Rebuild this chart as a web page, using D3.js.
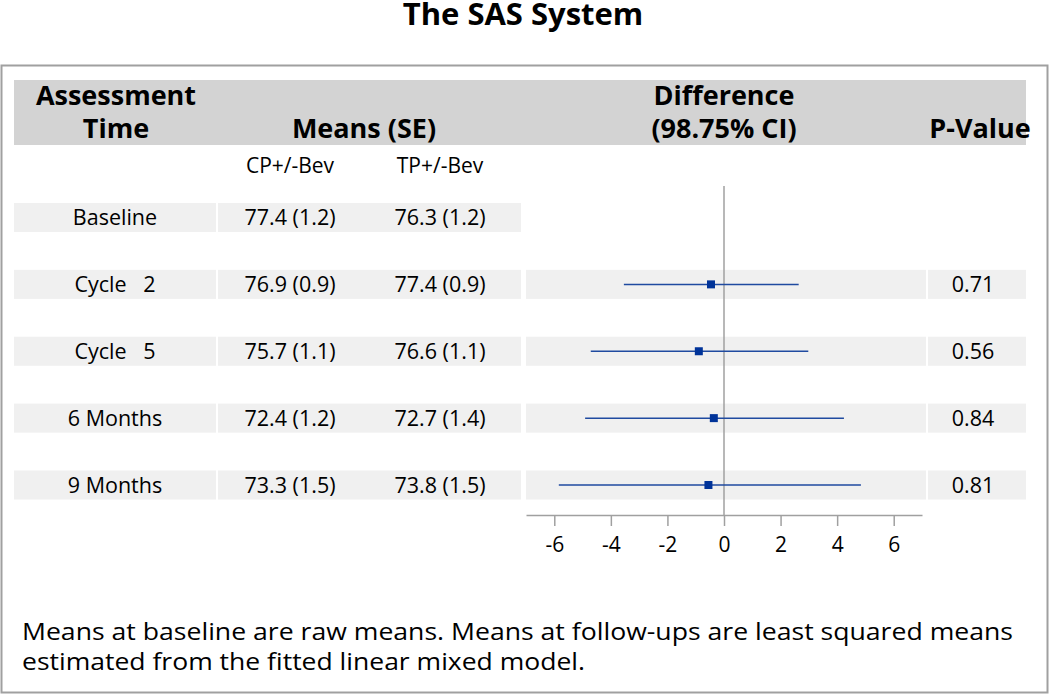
<!DOCTYPE html>
<html><head><meta charset="utf-8">
<script src="https://cdn.jsdelivr.net/npm/d3@7"></script>
<style>body{margin:0;background:#fff}text{font-family:"Open Sans",sans-serif}</style>
</head><body>
<svg id="c" width="1050" height="695"></svg>
<script>
const timepoints = ["Baseline", "Cycle   2", "Cycle   5", "6 Months", "9 Months"];
const meanCP = [77.4, 76.9, 75.7, 72.4, 73.3];
const seCP = [1.2, 0.9, 1.1, 1.2, 1.5];
const meanTP = [76.3, 77.4, 76.6, 72.7, 73.8];
const seTP = [1.2, 0.9, 1.1, 1.4, 1.5];
const diffEst = [null, -0.46, -0.89, -0.36, -0.55];
const diffLow = [null, -3.54, -4.71, -4.91, -5.84];
const diffHigh = [null, 2.64, 2.98, 4.24, 4.84];
const pValues = [null, "0.71", "0.56", "0.84", "0.81"];
const xTicks = [-6, -4, -2, 0, 2, 4, 6];
const groupLabels = ["CP+/-Bev", "TP+/-Bev"];

const svg = d3.select("#c");
const x = d3.scaleLinear().domain([-7, 7]).range([526, 922]);
const y = d3.scalePoint().domain(timepoints).range([217.5, 485]);
const bh = 29;
const tsz = "21.5px";

// title
svg.append("text").attr("x", 523).attr("y", 25).attr("text-anchor", "middle")
  .style("font-size", "31px").style("font-weight", "bold").text("The SAS System");

// border
svg.append("rect").attr("x", 1.5).attr("y", 65.5).attr("width", 1046).attr("height", 627)
  .attr("fill", "none").attr("stroke", "#a0a0a0").attr("stroke-width", 2);

// header band
svg.append("rect").attr("x", 14).attr("y", 80).attr("width", 1012).attr("height", 65).attr("fill", "#d3d3d3");
const hdr = [
  {t: "Assessment", x: 116, y: 105}, {t: "Time", x: 116, y: 138},
  {t: "Means (SE)", x: 364, y: 138},
  {t: "Difference", x: 724, y: 105}, {t: "(98.75% CI)", x: 724, y: 138},
  {t: "P-Value", x: 980, y: 138}
];
svg.append("defs").append("clipPath").attr("id", "hc").append("rect")
  .attr("x", 0).attr("y", 60).attr("width", 1032).attr("height", 100);
svg.append("g").attr("clip-path", "url(#hc)").selectAll("text").data(hdr).join("text")
  .attr("x", d => d.x).attr("y", d => d.y).attr("text-anchor", "middle")
  .style("font-size", "27px").style("font-weight", "bold").text(d => d.t);

// sub headers
svg.selectAll(".sub").data(groupLabels).join("text").attr("class", "sub")
  .attr("x", (d, i) => [290, 440][i]).attr("y", 173).attr("text-anchor", "middle")
  .style("font-size", "21px").text(d => d);

// row bands
const rows = timepoints.map((t, i) => ({t, i}));
const g = svg.append("g");
rows.forEach(r => {
  const cy = y(r.t);
  g.append("rect").attr("x", 14).attr("y", cy - bh / 2).attr("width", 202).attr("height", bh).attr("fill", "#f0f0f0");
  g.append("rect").attr("x", 218).attr("y", cy - bh / 2).attr("width", 303).attr("height", bh).attr("fill", "#f0f0f0");
  if (diffEst[r.i] !== null) {
    g.append("rect").attr("x", 526).attr("y", cy - bh / 2).attr("width", 400).attr("height", bh).attr("fill", "#f0f0f0");
    g.append("rect").attr("x", 928).attr("y", cy - bh / 2).attr("width", 98).attr("height", bh).attr("fill", "#f0f0f0");
  }
});

// row texts
g.selectAll(".lab").data(rows).join("text").attr("class", "lab")
  .attr("x", 115).attr("y", d => y(d.t) + 7.5).attr("text-anchor", "middle")
  .attr("xml:space", "preserve").style("white-space", "pre")
  .style("font-size", tsz).text(d => d.t);
g.selectAll(".cp").data(rows).join("text").attr("class", "cp")
  .attr("x", 290).attr("y", d => y(d.t) + 7.5).attr("text-anchor", "middle")
  .style("font-size", tsz).text(d => `${meanCP[d.i].toFixed(1)} (${seCP[d.i].toFixed(1)})`);
g.selectAll(".tp").data(rows).join("text").attr("class", "tp")
  .attr("x", 440).attr("y", d => y(d.t) + 7.5).attr("text-anchor", "middle")
  .style("font-size", tsz).text(d => `${meanTP[d.i].toFixed(1)} (${seTP[d.i].toFixed(1)})`);
g.selectAll(".pv").data(rows.filter(d => pValues[d.i] !== null)).join("text").attr("class", "pv")
  .attr("x", 973).attr("y", d => y(d.t) + 7.5).attr("text-anchor", "middle")
  .style("font-size", tsz).text(d => pValues[d.i]);

// reference line
svg.append("line").attr("x1", x(0)).attr("x2", x(0)).attr("y1", 186).attr("y2", 515)
  .attr("stroke", "#a0a0a0").attr("stroke-width", 1.5);

// CI lines and markers
const ci = rows.filter(d => diffEst[d.i] !== null);
svg.selectAll(".ci").data(ci).join("line").attr("class", "ci")
  .attr("x1", d => x(diffLow[d.i])).attr("x2", d => x(diffHigh[d.i]))
  .attr("y1", d => y(d.t)).attr("y2", d => y(d.t))
  .attr("stroke", "#1f4aa0").attr("stroke-width", 1.5);
svg.selectAll(".pt").data(ci).join("rect").attr("class", "pt")
  .attr("x", d => x(diffEst[d.i]) - 4).attr("y", d => y(d.t) - 4)
  .attr("width", 8).attr("height", 8).attr("fill", "#003399");

// axis
const ax = svg.append("g").attr("transform", "translate(0,515)")
  .call(d3.axisBottom(x).tickValues(xTicks).tickSizeInner(11).tickSizeOuter(0).tickPadding(11)
    .tickFormat(d => String(d)));
ax.select(".domain").attr("stroke", "#a0a0a0").attr("stroke-width", 1.5);
ax.selectAll(".tick line").attr("stroke", "#a0a0a0").attr("stroke-width", 1.5);
ax.selectAll(".tick text").style("font-size", "21px").style("font-family", "'Open Sans',sans-serif").attr("fill", "#000");

// footnote
const foot = ["Means at baseline are raw means. Means at follow-ups are least squared means",
              "estimated from the fitted linear mixed model."];
svg.selectAll(".ft").data(foot).join("text").attr("class", "ft")
  .attr("x", 22).attr("y", (d, i) => 640 + i * 30)
  .attr("textLength", (d, i) => [991, 563][i]).attr("lengthAdjust", "spacingAndGlyphs")
  .style("font-size", "24px").text(d => d);
</script>
</body></html>
